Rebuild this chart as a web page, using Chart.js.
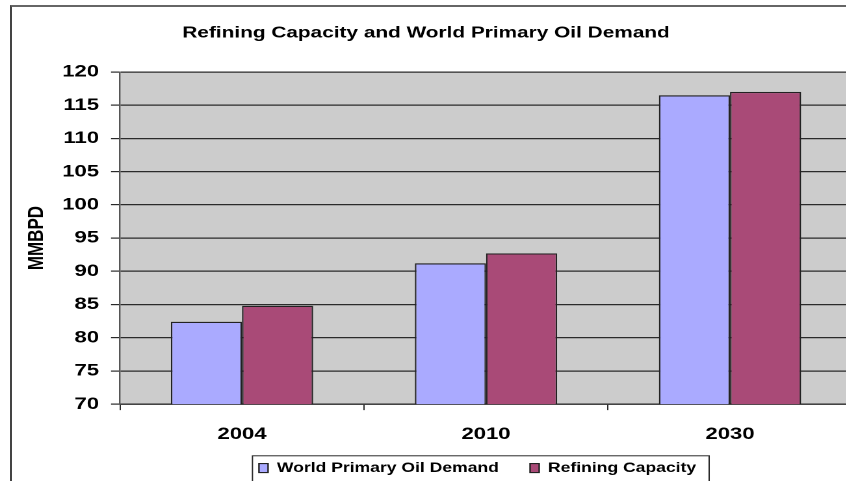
<!DOCTYPE html>
<html>
<head>
<meta charset="utf-8">
<script src="https://cdn.jsdelivr.net/npm/chart.js@4"></script>
<style>
  html, body { margin: 0; padding: 0; background: #fff; overflow: hidden; }
  #frame {
    position: absolute; left: 10px; top: 5px; width: 1000px; height: 1000px;
    border-left: 2px solid #444; border-top: 2px solid #666;
  }
  #wrap {
    position: absolute; left: 0; top: 0; width: 680px; height: 506px;
    transform: scaleX(1.3); transform-origin: 0 0;
  }
</style>
</head>
<body>
<div id="frame"></div>
<div id="wrap"><canvas id="myChart" width="680" height="506"></canvas></div>
<script>
const COLORS = {
    plot: '#CCCCCC',
    demand: '#AAAAFF',
    capacity: '#A94A77',
    line: '#2a2a2a',
    text: '#000000'
};

const years = ['2004', '2010', '2030'];
const demand = [82.4, 91.2, 116.5];
const capacity = [84.8, 92.7, 117.0];
const yTicks = [70, 75, 80, 85, 90, 95, 100, 105, 110, 115, 120];

const FONT = "Arial, 'Liberation Sans', sans-serif";

// grey plot area behind the bars
const plotBackground = {
    id: 'plotBackground',
    beforeDraw(chart) {
        const {ctx, chartArea: a} = chart;
        ctx.save();
        ctx.fillStyle = COLORS.plot;
        ctx.fillRect(a.left, a.top, a.right - a.left, a.bottom - a.top);
        ctx.restore();
    }
};

// nudge the legend box up and left, then frame its entries
const legendFrame = {
    id: 'legendFrame',
    afterLayout(chart) {
        const lg = chart.legend;
        lg.left -= 6.5; lg.right -= 6.5;
        lg.top -= 21.2; lg.bottom -= 21.2;
    },
    afterDraw(chart) {
        const boxes = chart.legend.legendHitBoxes;
        if (!boxes || !boxes.length) return;
        const first = boxes[0];
        const last = boxes[boxes.length - 1];
        const ctx = chart.ctx;
        ctx.save();
        ctx.strokeStyle = COLORS.line;
        ctx.lineWidth = 1;
        ctx.strokeRect(first.left - 5, first.top - 5.5, last.left + last.width - first.left + 15, 60);
        ctx.restore();
    }
};

const ctx = document.getElementById('myChart').getContext('2d');

new Chart(ctx, {
    type: 'bar',
    data: {
        labels: years,
        datasets: [{
            label: 'World Primary Oil Demand',
            data: demand,
            backgroundColor: COLORS.demand,
            borderColor: '#222',
            borderWidth: 1.2,
            categoryPercentage: 0.583,
            barPercentage: 1
        }, {
            label: 'Refining Capacity',
            data: capacity,
            backgroundColor: COLORS.capacity,
            borderColor: '#222',
            borderWidth: 1.2,
            categoryPercentage: 0.583,
            barPercentage: 1
        }]
    },
    plugins: [plotBackground, legendFrame],
    options: {
        responsive: false,
        animation: false,
        devicePixelRatio: 2,
        layout: {
            padding: { left: 0, right: 24.6, top: 0, bottom: 0 }
        },
        plugins: {
            title: {
                display: true,
                text: 'Refining Capacity and World Primary Oil Demand',
                color: COLORS.text,
                font: { family: FONT, size: 16, weight: 'bold' },
                padding: { top: 23.4, bottom: 29.4 }
            },
            legend: {
                display: true,
                position: 'bottom',
                fullSize: false,
                labels: {
                    color: COLORS.text,
                    font: { family: FONT, size: 13.5, weight: 'bold' },
                    boxWidth: 7,
                    boxHeight: 9,
                    padding: 24
                }
            },
            tooltip: { enabled: false }
        },
        scales: {
            x: {
                offset: true,
                grid: {
                    display: true,
                    offset: true,
                    drawOnChartArea: false,
                    drawTicks: true,
                    tickLength: 6,
                    tickColor: COLORS.line
                },
                border: { display: true, color: COLORS.line, width: 1.2 },
                ticks: {
                    color: COLORS.text,
                    padding: 14,
                    font: { family: FONT, size: 17, weight: 'bold' }
                }
            },
            y: {
                min: 70,
                max: 120,
                afterBuildTicks(scale) {
                    scale.ticks = yTicks.map(v => ({ value: v }));
                },
                grid: {
                    color: COLORS.line,
                    lineWidth: 1.2,
                    drawTicks: true,
                    tickLength: 6.9,
                    tickColor: COLORS.line
                },
                border: { display: true, color: '#555', width: 1.2 },
                ticks: {
                    color: COLORS.text,
                    padding: 9.2,
                    font: { family: FONT, size: 17, weight: 'bold' }
                },
                title: {
                    display: true,
                    text: 'MMBPD',
                    color: COLORS.text,
                    font: { family: FONT, size: 17, weight: 'bold' },
                    padding: { top: 18.3, bottom: 0 }
                },
                afterFit(scale) { scale.width = 92.3; }
            }
        }
    }
});
</script>
</body>
</html>
